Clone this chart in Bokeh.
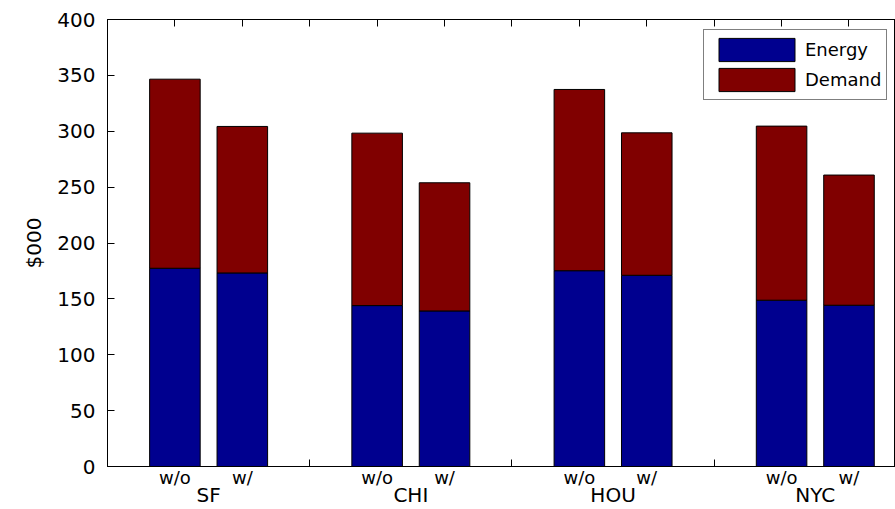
from bokeh.plotting import figure
from bokeh.models import (Range1d, FixedTicker, LinearAxis, Legend, LegendItem,
                          ColumnDataSource)
from bokeh.embed import file_html
from bokeh.resources import INLINE

# ---- data ----
cities = ["SF", "CHI", "HOU", "NYC"]
scenarios = ["w/o", "w/"]
energy = [177.4, 173.2, 144.0, 139.2, 175.2, 171.1, 148.8, 144.3]
demand = [169.2, 131.1, 154.3, 114.7, 162.2, 127.5, 155.8, 116.5]
series = ["Energy", "Demand"]
colors = ["#00008F", "#800000"]
y_ticks = [0, 50, 100, 150, 200, 250, 300, 350, 400]
y_label = "$000"

FONT = "DejaVu Sans"

# bar positions: groups of two with a gap slot between cities
xpos = []
labels = []
for i, c in enumerate(cities):
    for j, s in enumerate(scenarios):
        xpos.append(3 * i + j + 1)
        labels.append(s)
city_pos = [3 * i + 1.5 for i in range(len(cities))]
gap_pos = [3 * i + 3 for i in range(len(cities) - 1)]

src = ColumnDataSource(dict(x=xpos, Energy=energy, Demand=demand, lab=labels))

p = figure(width=895, height=509, output_backend="svg", toolbar_location=None,
           x_range=Range1d(0, 11.69), y_range=Range1d(0, 400),
           min_border_left=107, min_border_right=0, min_border_top=19, min_border_bottom=0)
p.background_fill_color = "white"
p.border_fill_color = "white"
p.outline_line_color = "black"
p.outline_line_width = 1
p.xgrid.visible = False
p.ygrid.visible = False

rs = p.vbar_stack(series, x="x", width=0.75, source=src, fill_color=colors,
                  line_color="black", line_width=1)

# bottom axis: scenario labels
xa = p.xaxis[0]
xa.ticker = FixedTicker(ticks=xpos, minor_ticks=gap_pos)
xa.major_label_overrides = {x: l for x, l in zip(xpos, labels)}
xa.major_tick_line_color = None
xa.major_tick_in = 0
xa.major_tick_out = 0
xa.minor_tick_in = 7
xa.minor_tick_out = 0
xa.minor_tick_line_color = "black"
xa.major_label_standoff = 0
xa.major_label_text_font = FONT
xa.major_label_text_font_size = "18px"
xa.major_label_text_color = "black"
xa.axis_line_color = "black"

# second bottom axis: city names under the scenario labels
city_axis = LinearAxis(ticker=FixedTicker(ticks=city_pos),
                       major_label_overrides={x: c for x, c in zip(city_pos, cities)},
                       major_tick_line_color=None, major_tick_in=0, major_tick_out=0,
                       minor_tick_line_color=None, minor_tick_in=0, minor_tick_out=0,
                       axis_line_color=None, major_label_standoff=-8,
                       major_label_text_font=FONT, major_label_text_font_size="20px",
                       major_label_text_color="black")
p.add_layout(city_axis, "below")

# left axis
ya = p.yaxis[0]
ya.ticker = FixedTicker(ticks=y_ticks)
ya.major_tick_in = 7
ya.major_tick_out = 0
ya.minor_tick_line_color = None
ya.major_label_standoff = 12
ya.major_label_text_font = FONT
ya.major_label_text_font_size = "20px"
ya.major_label_text_color = "black"
ya.axis_label = y_label
ya.axis_label_text_font = FONT
ya.axis_label_text_font_size = "20px"
ya.axis_label_text_font_style = "normal"
ya.axis_label_text_color = "black"
ya.axis_label_standoff = 8
ya.axis_line_color = "black"

# top mirrored ticks (no labels)
top = LinearAxis(ticker=FixedTicker(ticks=[], minor_ticks=list(range(1, 12))),
                 minor_tick_in=7, minor_tick_out=0, minor_tick_line_color="black",
                 major_tick_line_color=None, major_label_standoff=0,
                 axis_line_color="black")
p.add_layout(top, "above")

legend = Legend(items=[LegendItem(label=s, renderers=[r]) for s, r in zip(series, rs)],
                location=(596, 366), orientation="vertical",
                glyph_width=95, glyph_height=29, padding=5, spacing=1,
                label_standoff=1, label_text_font=FONT, label_text_font_size="18px",
                label_text_color="black", border_line_color="black", border_line_width=1,
                background_fill_color="white", background_fill_alpha=1.0, margin=0)
p.add_layout(legend, "center")

open("out.html", "w").write(file_html(p, INLINE))
